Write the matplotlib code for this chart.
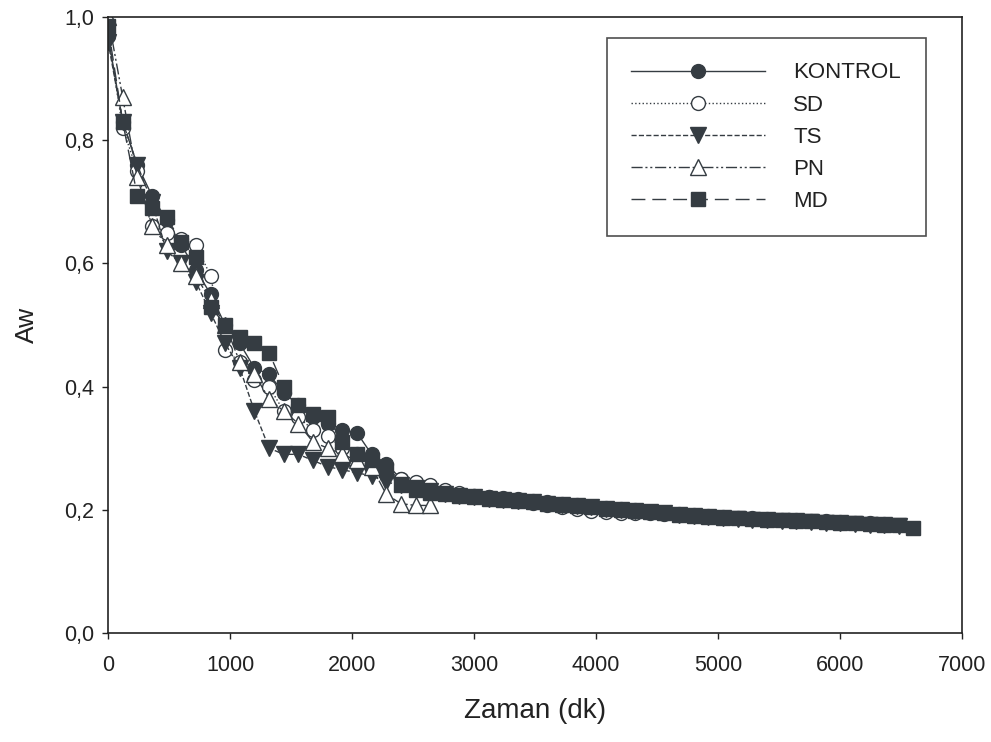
import matplotlib
matplotlib.use("Agg")
import matplotlib.pyplot as plt
from matplotlib.ticker import FuncFormatter

plt.rcParams["font.family"] = ["Liberation Sans", "DejaVu Sans"]

# sampling times (dk), one reading every 120 min
time_kontrol = [0, 120, 240, 360, 480, 600, 720, 840, 960, 1080, 1200, 1320, 1440, 1560,
                1680, 1800, 1920, 2040, 2160, 2280, 2400, 2520, 2640, 2760, 2880, 3000,
                3120, 3240, 3360, 3480, 3600, 3720, 3840, 3960, 4080, 4200, 4320, 4440,
                4560, 4680, 4800, 4920, 5040, 5160, 5280, 5400, 5520, 5640, 5760, 5880,
                6000, 6120, 6240, 6360]
aw_kontrol = [0.97, 0.83, 0.76, 0.71, 0.67, 0.63, 0.59, 0.55, 0.50, 0.47, 0.43, 0.42, 0.39,
              0.37, 0.35, 0.34, 0.33, 0.325, 0.29, 0.275, 0.25, 0.24, 0.235, 0.23, 0.226,
              0.223, 0.221, 0.219, 0.217, 0.215, 0.212, 0.21, 0.208, 0.205, 0.203, 0.201,
              0.199, 0.197, 0.195, 0.193, 0.191, 0.19, 0.188, 0.187, 0.186, 0.185, 0.184,
              0.183, 0.182, 0.181, 0.18, 0.179, 0.178, 0.177]

time_sd = [0, 120, 240, 360, 480, 600, 720, 840, 960, 1080, 1200, 1320, 1440, 1560, 1680,
           1800, 1920, 2040, 2160, 2280, 2400, 2520, 2640, 2760, 2880, 3000, 3120, 3240,
           3360, 3480, 3600, 3720, 3840, 3960, 4080, 4200, 4320, 4440, 4560, 4680, 4800]
aw_sd = [0.97, 0.82, 0.75, 0.66, 0.65, 0.64, 0.63, 0.58, 0.46, 0.44, 0.41, 0.40, 0.36, 0.35,
         0.33, 0.32, 0.30, 0.29, 0.28, 0.26, 0.25, 0.245, 0.24, 0.232, 0.227, 0.223, 0.22,
         0.217, 0.214, 0.211, 0.208, 0.205, 0.202, 0.198, 0.196, 0.195, 0.194, 0.194,
         0.193, 0.192, 0.19]

time_ts = [0, 120, 240, 360, 480, 600, 720, 840, 960, 1080, 1200, 1320, 1440, 1560, 1680,
           1800, 1920, 2040, 2160, 2280, 2400, 2520, 2640, 2760, 2880, 3000, 3120, 3240,
           3360, 3480, 3600, 3720, 3840, 3960, 4080, 4200, 4320, 4440, 4560, 4680, 4800,
           4920, 5040, 5160, 5280, 5400, 5520, 5640, 5760, 5880, 6000, 6120, 6240, 6360,
           6480]
aw_ts = [0.96, 0.83, 0.76, 0.70, 0.62, 0.60, 0.57, 0.52, 0.47, 0.43, 0.36, 0.30, 0.29, 0.29,
         0.28, 0.27, 0.265, 0.26, 0.255, 0.245, 0.24, 0.235, 0.23, 0.226, 0.222, 0.22,
         0.218, 0.216, 0.214, 0.212, 0.21, 0.208, 0.206, 0.204, 0.202, 0.2, 0.198, 0.196,
         0.194, 0.192, 0.19, 0.188, 0.186, 0.185, 0.184, 0.183, 0.182, 0.181, 0.18, 0.179,
         0.178, 0.177, 0.176, 0.175, 0.174]

time_pn = [0, 120, 240, 360, 480, 600, 720, 840, 960, 1080, 1200, 1320, 1440, 1560, 1680,
           1800, 1920, 2040, 2160, 2280, 2400, 2520, 2640]
aw_pn = [1.0, 0.87, 0.74, 0.66, 0.63, 0.60, 0.58, 0.54, 0.50, 0.44, 0.42, 0.38, 0.36, 0.34,
         0.31, 0.30, 0.29, 0.28, 0.27, 0.225, 0.21, 0.207, 0.207]

time_md = [0, 120, 240, 360, 480, 600, 720, 840, 960, 1080, 1200, 1320, 1440, 1560, 1680,
           1800, 1920, 2040, 2160, 2280, 2400, 2520, 2640, 2760, 2880, 3000, 3120, 3240,
           3360, 3480, 3600, 3720, 3840, 3960, 4080, 4200, 4320, 4440, 4560, 4680, 4800,
           4920, 5040, 5160, 5280, 5400, 5520, 5640, 5760, 5880, 6000, 6120, 6240, 6360,
           6480, 6600]
aw_md = [0.985, 0.83, 0.71, 0.69, 0.675, 0.635, 0.61, 0.53, 0.50, 0.48, 0.47, 0.455, 0.40,
         0.37, 0.355, 0.35, 0.31, 0.29, 0.28, 0.265, 0.24, 0.232, 0.228, 0.225, 0.222,
         0.22, 0.218, 0.216, 0.214, 0.212, 0.21, 0.208, 0.206, 0.204, 0.202, 0.2, 0.198,
         0.196, 0.194, 0.192, 0.19, 0.188, 0.187, 0.186, 0.185, 0.184, 0.183, 0.182,
         0.181, 0.18, 0.179, 0.178, 0.177, 0.176, 0.175, 0.171]

INK = "#353c42"


def main():
    fig = plt.figure(figsize=(9.91, 7.42), dpi=100)
    ax = fig.add_axes([0.109, 0.147, 0.862, 0.830])

    ax.plot(time_kontrol, aw_kontrol, color=INK, lw=1, ls="-", marker="o", ms=10,
            mfc=INK, mec=INK, label="KONTROL")
    ax.plot(time_sd, aw_sd, color=INK, lw=1, ls=":", marker="o", ms=10,
            mfc="white", mec=INK, label="SD")
    ax.plot(time_ts, aw_ts, color=INK, lw=1, ls="--", marker="v", ms=11,
            mfc=INK, mec=INK, label="TS")
    ax.plot(time_pn, aw_pn, color=INK, lw=1, ls=(0, (8, 2, 1.5, 2, 1.5, 2)), marker="^",
            ms=11, mfc="white", mec=INK, label="PN")
    ax.plot(time_md, aw_md, color=INK, lw=1, ls=(0, (10, 5)), marker="s", ms=10,
            mfc=INK, mec=INK, label="MD")

    ax.set_xlim(0, 7000)
    ax.set_ylim(0, 1.0)
    ax.set_xticks(range(0, 7001, 1000))
    ax.set_yticks([0, 0.2, 0.4, 0.6, 0.8, 1.0])
    ax.yaxis.set_major_formatter(FuncFormatter(lambda v, p: f"{v:.1f}".replace(".", ",")))
    ax.tick_params(direction="out", length=4, width=1, labelsize=15.5, colors="#222222",
                   top=False, right=False)
    ax.tick_params(axis="x", pad=12)
    ax.tick_params(axis="y", pad=6)
    for sp in ax.spines.values():
        sp.set_linewidth(1.2)
        sp.set_color("#222222")

    ax.set_xlabel("Zaman (dk)", fontsize=20, color="#222222", labelpad=16)
    ax.set_ylabel("Aw", fontsize=19, color="#222222", labelpad=18)

    leg = ax.legend(loc="upper right", bbox_to_anchor=(0.957, 0.966), fontsize=16,
                    handlelength=6.0, handletextpad=1.3, labelspacing=0.5,
                    borderpad=1.1, borderaxespad=0, fancybox=False, frameon=True)
    leg.get_frame().set_edgecolor("#222222")
    leg.get_frame().set_linewidth(1.2)
    for t in leg.get_texts():
        t.set_color("#222222")

    fig.savefig("out.png", dpi=100)
    plt.close(fig)


if __name__ == "__main__":
    main()
